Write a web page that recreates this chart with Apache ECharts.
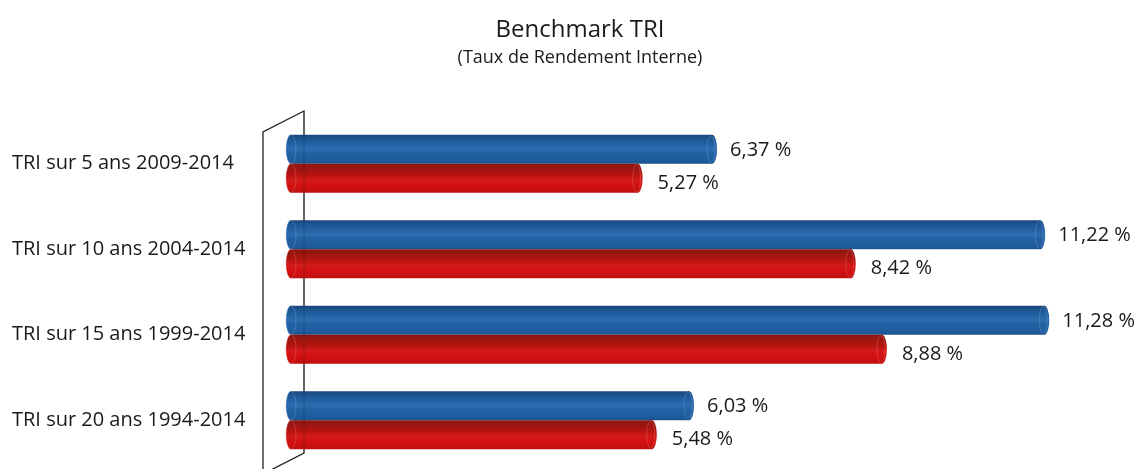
<!DOCTYPE html>
<html>
<head>
<meta charset="utf-8">
<script src="https://cdn.jsdelivr.net/npm/echarts@6/dist/echarts.min.js"></script>
<style>
  html, body { margin: 0; padding: 0; background: #fff; }
  #chart { width: 1135px; height: 469px; }
</style>
</head>
<body>
<div id="chart"></div>
<script>
(function(){
    var categories = ['TRI sur 5 ans 2009-2014', 'TRI sur 10 ans 2004-2014', 'TRI sur 15 ans 1999-2014', 'TRI sur 20 ans 1994-2014'];
    var blueValues = [6.37, 11.22, 11.28, 6.03];
    var redValues = [5.27, 8.42, 8.88, 5.48];

    var font = '"Open Sans", "Noto Sans", sans-serif';
    var barH = 29;
    var rx = 5;

    var blueStops = [
        {offset: 0, color: '#17467a'},
        {offset: 0.12, color: '#1c5490'},
        {offset: 0.35, color: '#2463a6'},
        {offset: 0.5, color: '#2d6db0'},
        {offset: 0.62, color: '#2261a3'},
        {offset: 0.9, color: '#1f5c9d'},
        {offset: 1, color: '#1a4f8a'}
    ];
    var redStops = [
        {offset: 0, color: '#8a1510'},
        {offset: 0.2, color: '#a11510'},
        {offset: 0.4, color: '#b81410'},
        {offset: 0.55, color: '#d41a1a'},
        {offset: 0.75, color: '#d31010'},
        {offset: 1, color: '#bf0e0e'}
    ];

    function fmt(v) {
        return v.toFixed(2).replace('.', ',') + ' %';
    }

    function cylinder(stops, capStroke, side, labelGap, labelDy) {
        return function(params, api) {
            var cat = api.value(0);
            var val = api.value(1);
            var start = api.coord([0, cat]);
            var end = api.coord([val, cat]);
            var top = side === 0 ? start[1] - barH : start[1];
            var cy = top + barH / 2;
            var x0 = start[0] + rx;
            var x1 = end[0] - rx;
            var grad = new echarts.graphic.LinearGradient(0, 0, 0, 1, stops);
            return {
                type: 'group',
                children: [
                    {
                        type: 'circle',
                        x: x1, y: cy, scaleX: rx / (barH / 2),
                        shape: {cx: 0, cy: 0, r: barH / 2},
                        style: {fill: grad}
                    },
                    {
                        type: 'rect',
                        shape: {x: x0, y: top, width: x1 - x0, height: barH},
                        style: {fill: grad}
                    },
                    {
                        type: 'circle',
                        x: x1 - 1, y: cy, scaleX: (rx - 1) / (barH / 2 - 1),
                        shape: {cx: 0, cy: 0, r: barH / 2 - 1},
                        style: {fill: 'none', stroke: capStroke, lineWidth: 1}
                    },
                    {
                        type: 'circle',
                        x: x0, y: cy, scaleX: rx / (barH / 2),
                        shape: {cx: 0, cy: 0, r: barH / 2},
                        style: {fill: grad, stroke: capStroke, lineWidth: 1}
                    },
                    {
                        type: 'text',
                        x: end[0] + labelGap, y: cy + labelDy,
                        style: {
                            text: fmt(val),
                            fill: '#1a1a1a',
                            font: '20px ' + font,
                            verticalAlign: 'middle',
                            align: 'left'
                        }
                    }
                ]
            };
        };
    }

    var gridLeft = 286;
    var option = {
        animation: false,
        title: {
            text: 'Benchmark TRI',
            subtext: '(Taux de Rendement Interne)',
            left: 575,
            top: 13,
            textAlign: 'center',
            itemGap: 7,
            textStyle: {fontFamily: font, fontSize: 24, fontWeight: 'normal', color: '#1a1a1a'},
            subtextStyle: {fontFamily: font, fontSize: 18, color: '#1a1a1a'}
        },
        grid: {left: gridLeft, right: 37, top: 121, bottom: 6},
        xAxis: {type: 'value', min: 0, max: 12, show: false},
        yAxis: {
            type: 'category',
            data: categories,
            inverse: true,
            axisLine: {show: false},
            axisTick: {show: false},
            splitLine: {show: false},
            axisLabel: {
                align: 'left',
                margin: gridLeft - 12,
                fontFamily: font,
                fontSize: 20,
                color: '#1a1a1a'
            }
        },
        graphic: [
            {
                type: 'polyline', z: 0,
                shape: {points: [[263, 480], [263, 132], [304, 111], [304, 453], [263, 474]]},
                style: {fill: 'none', stroke: '#222', lineWidth: 1.3}
            },
            {
                type: 'line', z: 100,
                shape: {x1: 304, y1: 111, x2: 304, y2: 453},
                style: {stroke: '#222', lineWidth: 1, opacity: 0.25}
            }
        ],
        series: [
            {
                type: 'custom',
                name: 'blue',
                renderItem: cylinder(blueStops, 'rgba(120,160,210,0.6)', 0, 13, 1),
                data: blueValues.map(function(v, i){ return [i, v]; }),
                encode: {x: 1, y: 0}
            },
            {
                type: 'custom',
                name: 'red',
                renderItem: cylinder(redStops, 'rgba(230,110,110,0.6)', 1, 15, 5),
                data: redValues.map(function(v, i){ return [i, v]; }),
                encode: {x: 1, y: 0}
            }
        ]
    };
    var chart = echarts.init(document.getElementById('chart'));
    chart.setOption(option);
})();
</script>
</body>
</html>
